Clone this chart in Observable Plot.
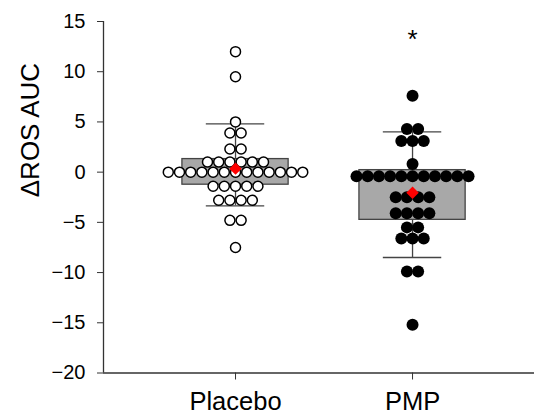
<!DOCTYPE html>
<html><head><meta charset="utf-8">
<script src="https://cdn.jsdelivr.net/npm/d3@7"></script>
<script src="https://cdn.jsdelivr.net/npm/@observablehq/plot@0.6"></script>
<style>body{margin:0;background:#fff;} svg{display:block}</style>
</head><body><div id="chart"></div>
<script>
const categories = ["Placebo", "PMP"];
const placeboValues = [12, 9.5, 5, 3.9, 3.9, 2.3, 2.3,
  1, 1, 1, 1, 1, 1,
  0, 0, 0, 0, 0, 0, 0, 0, 0, 0, 0, 0, 0,
  -1.4, -1.4, -1.4, -1.4, -1.4,
  -2.8, -2.8, -2.8, -2.8,
  -4.8, -4.8, -7.5];
const pmpValues = [7.6, 4.3, 4.3, 3.1, 3.1, 3.1, 0.8,
  -0.4, -0.4, -0.4, -0.4, -0.4, -0.4, -0.4, -0.4, -0.4, -0.4, -0.4,
  -2.5, -2.5, -2.5, -2.5,
  -4.1, -4.1, -4.1, -4.1,
  -5.5, -5.5, -6.6, -6.6, -6.6,
  -9.9, -9.9, -15.2];
const boxLow = [-1.25, -4.75];
const boxHigh = [1.3, 0.2];
const meanValues = [0.35, -2.05];
const whiskerLow = [-3.35, -8.5];
const whiskerHigh = [4.8, 4.0];
const significance = ["", "*"];
const significanceY = [null, 13.2];
const yTicks = [15, 10, 5, 0, -5, -10, -15, -20];
const yLabel = "ΔROS AUC";

const xDomain = [0.2542, 2.689];
const spacing = 0.0633;

function swarm(values, gi) {
  const counts = d3.rollup(values, v => v.length, d => d);
  const seen = new Map();
  return values.map(v => {
    const k = counts.get(v);
    const i = seen.get(v) || 0;
    seen.set(v, i + 1);
    return {x: gi + 1 + (i - (k - 1) / 2) * spacing, y: v};
  });
}
const placeboDots = swarm(placeboValues, 0);
const pmpDots = swarm(pmpValues, 1);
const boxes = categories.map((c, i) => ({
  x: i + 1, low: boxLow[i], high: boxHigh[i], mean: meanValues[i],
  wl: whiskerLow[i], wh: whiskerHigh[i]
}));
const sig = categories.map((c, i) => ({x: i + 1, y: significanceY[i], t: significance[i]})).filter(d => d.t);

const plot = Plot.plot({
  width: 534, height: 418,
  marginLeft: 103, marginRight: 0, marginTop: 21, marginBottom: 45.5,
  style: {fontFamily: "'Liberation Sans', Arial, sans-serif", background: "white", color: "black"},
  x: {domain: xDomain, axis: null},
  y: {domain: [-20, 15], axis: null},
  marks: [
    Plot.ruleX(boxes, {x: "x", y1: "wl", y2: "wh", stroke: "#444", strokeWidth: 1.3}),
    Plot.ruleY(boxes, {x1: d => d.x - 0.165, x2: d => d.x + 0.165, y: "wh", stroke: "#444", strokeWidth: 1.3}),
    Plot.ruleY(boxes, {x1: d => d.x - 0.165, x2: d => d.x + 0.165, y: "wl", stroke: "#444", strokeWidth: 1.3}),
    Plot.rect(boxes, {x1: d => d.x - 0.3, x2: d => d.x + 0.3, y1: "low", y2: "high", fill: "#a8a8a8", stroke: "#444", strokeWidth: 1.3}),
    Plot.dot(placeboDots, {x: "x", y: "y", r: 5, fill: "white", stroke: "black", strokeWidth: 1.5}),
    Plot.dot(pmpDots, {x: "x", y: "y", r: 6, fill: "black", stroke: "none"}),
    Plot.dot(boxes, {x: "x", y: "mean", symbol: "diamond2", r: 5.6, fill: "#ff0000", stroke: "none"}),
    Plot.text(sig, {x: "x", y: "y", text: "t", fontSize: 26}),
    Plot.ruleX([xDomain[0]], {stroke: "#333", strokeWidth: 1.3}),
    Plot.ruleY([-20], {stroke: "#333", strokeWidth: 1.3}),
    Plot.axisY({ticks: yTicks, tickSize: 6, tickPadding: 12, fontSize: 20, label: null, stroke: "#333"}),
    Plot.axisX({ticks: [1, 2], tickFormat: d => categories[d - 1], tickSize: 7, tickPadding: 12, fontSize: 25.5, label: null, stroke: "#333"}),
    Plot.text([yLabel], {frameAnchor: "left", rotate: -90, dx: -73, fontSize: 26, text: d => d})
  ]
});
document.getElementById("chart").appendChild(plot);
</script>
</body></html>
